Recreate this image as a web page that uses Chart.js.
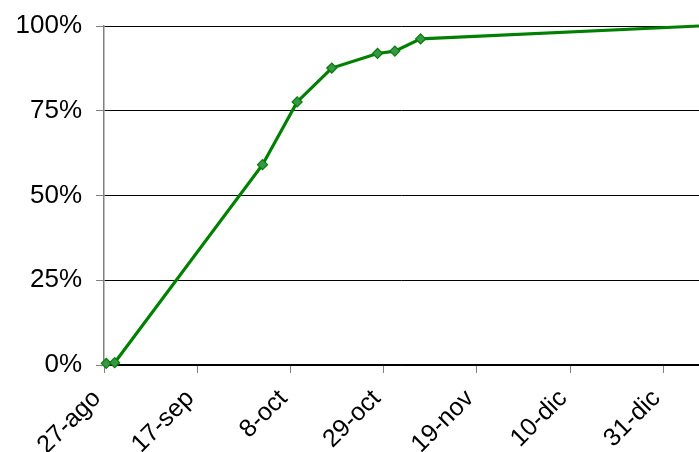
<!DOCTYPE html>
<html>
<head>
<meta charset="utf-8">
<script src="https://cdn.jsdelivr.net/npm/chart.js@4"></script>
<style>
html,body{margin:0;padding:0;background:#fff;}
#wrap{width:699px;height:452px;}
</style>
</head>
<body>
<div id="wrap"><canvas id="c" width="699" height="452"></canvas></div>
<script>
// Days since 27-ago
const days = [0.5, 2.4, 35.7, 43.5, 51.3, 61.6, 65.5, 71.3, 134];
const progress = [0.5, 0.7, 59.1, 77.6, 87.6, 91.9, 92.6, 96.2, 100];
const tickLabels = ["27-ago", "17-sep", "8-oct", "29-oct", "19-nov", "10-dic", "31-dic"];
const yTicks = [0, 25, 50, 75, 100];

const points = days.map((d, i) => ({x: d, y: progress[i]}));
const radii = days.map((d, i) => i === days.length - 1 ? 0 : 5);

Chart.defaults.font.family = "'Liberation Sans', Arial, sans-serif";
Chart.defaults.color = '#000';

new Chart(document.getElementById('c'), {
  type: 'line',
  data: {
    datasets: [{
      data: points,
      borderColor: '#008000',
      borderWidth: 3.2,
      pointStyle: 'rectRot',
      pointRadius: radii,
      pointBackgroundColor: '#339944',
      pointBorderColor: '#0a7a0a',
      pointBorderWidth: 1.2,
      tension: 0,
      clip: false
    }]
  },
  options: {
    responsive: false,
    animation: false,
    layout: {autoPadding: false, padding: {top: 26, right: 0, left: 0, bottom: 0}},
    plugins: {legend: {display: false}, tooltip: {enabled: false}},
    scales: {
      x: {
        type: 'linear',
        min: 0,
        max: 134,
        afterBuildTicks: (s) => { s.ticks = tickLabels.map((t, i) => ({value: i * 21})); },
        afterFit: (s) => { s.height = 87; s.paddingRight = 0; s.paddingLeft = 0; },
        ticks: {
          autoSkip: false,
          maxRotation: 45,
          minRotation: 45,
          padding: 11,
          labelOffset: -7,
          font: {size: 25},
          callback: (v) => tickLabels[Math.round(v / 21)]
        },
        grid: {drawOnChartArea: false, drawTicks: true, tickLength: 8, tickColor: '#808080'},
        border: {display: true, color: '#000', width: 1.5}
      },
      y: {
        min: 0,
        max: 100,
        afterBuildTicks: (s) => { s.ticks = yTicks.map(v => ({value: v})); },
        afterFit: (s) => { s.width = 104; s.paddingTop = 0; s.paddingBottom = 0; },
        ticks: {
          padding: 14,
          font: {size: 26},
          callback: (v) => v + '%'
        },
        grid: {color: '#000', lineWidth: 1, tickLength: 8, tickColor: '#808080'},
        border: {display: true, color: '#808080', width: 1.5}
      }
    }
  }
});
</script>
</body>
</html>
